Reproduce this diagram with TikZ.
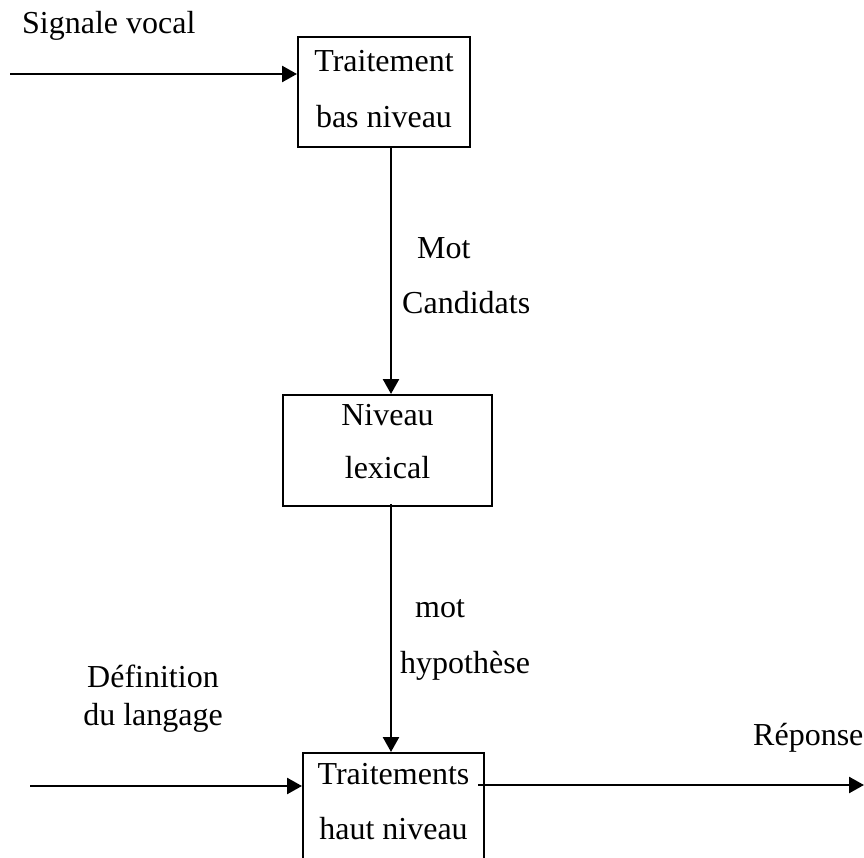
\documentclass[tikz,border=0pt]{standalone}
\usepackage{fontspec}
\setmainfont{Liberation Serif}
\usetikzlibrary{arrows.meta,calc}

\begin{document}
\begin{tikzpicture}[
  x=1pt,
  y=-1pt,
  >=Latex,
  font=\fontsize{32}{56}\selectfont,
  line/.style={draw=black,line width=2pt},
  arrow/.style={draw=black,line width=2.5pt,-{Triangle[length=15pt,width=16pt]}},
  bloc/.style={line,align=center,anchor=north,inner xsep=4pt,
               font=\fontsize{32}{56}\selectfont},
  etiquette/.style={anchor=base west,inner sep=0pt}
]
\useasboundingbox (0,0) rectangle (864,858);

% =====================================================================
% Blocks
% =====================================================================
\node[bloc,minimum width=172pt,inner ysep=13pt,text depth=7pt] (bas) at (384,36)
  {Traitement\\bas niveau};
\node[bloc,minimum width=209pt,inner ysep=9pt,text depth=19pt,
      font=\fontsize{32}{53}\selectfont] (lex) at (387.5,394)
  {Niveau\\lexical};
\node[bloc,minimum width=181pt,inner ysep=10pt,text depth=63pt,
      font=\fontsize{32}{55}\selectfont] (haut) at (393.5,752)
  {Traitements\\haut niveau};

% vertical axis of the down arrows
\coordinate (axe) at (391,0);

% =====================================================================
% Inputs / outputs
% =====================================================================
\coordinate (signal) at (10,74);
\coordinate (defin) at (30,786);
\coordinate (rep) at (864,785);

\draw[arrow] (signal) -- (signal -| bas.west);
\node[etiquette] (lsignal) at (22,34) {Signale vocal};

\draw[arrow] (defin) -- (defin -| haut.west);
\node[anchor=base] (ldefin1) at (153,687) {Définition};
\node[anchor=base] (ldefin2) at (153,725) {du langage};

\draw[arrow,shorten <=-7pt] (rep -| haut.east) -- (rep);
\node[etiquette] (lrep) at (753,745) {Réponse};

% =====================================================================
% Between levels
% =====================================================================
\draw[arrow] (bas.south -| axe) -- (lex.north -| axe);
\node[etiquette] (lmot1) at (417,259) {Mot};
\node[etiquette] (lcand) at (402,314) {Candidats};

\draw[arrow,shorten <=-3pt] (lex.south -| axe) -- (haut.north -| axe);
\node[etiquette] (lmot2) at (415,617) {mot};
\node[etiquette] (lhyp) at (400,673) {hypothèse};

\end{tikzpicture}
\end{document}
